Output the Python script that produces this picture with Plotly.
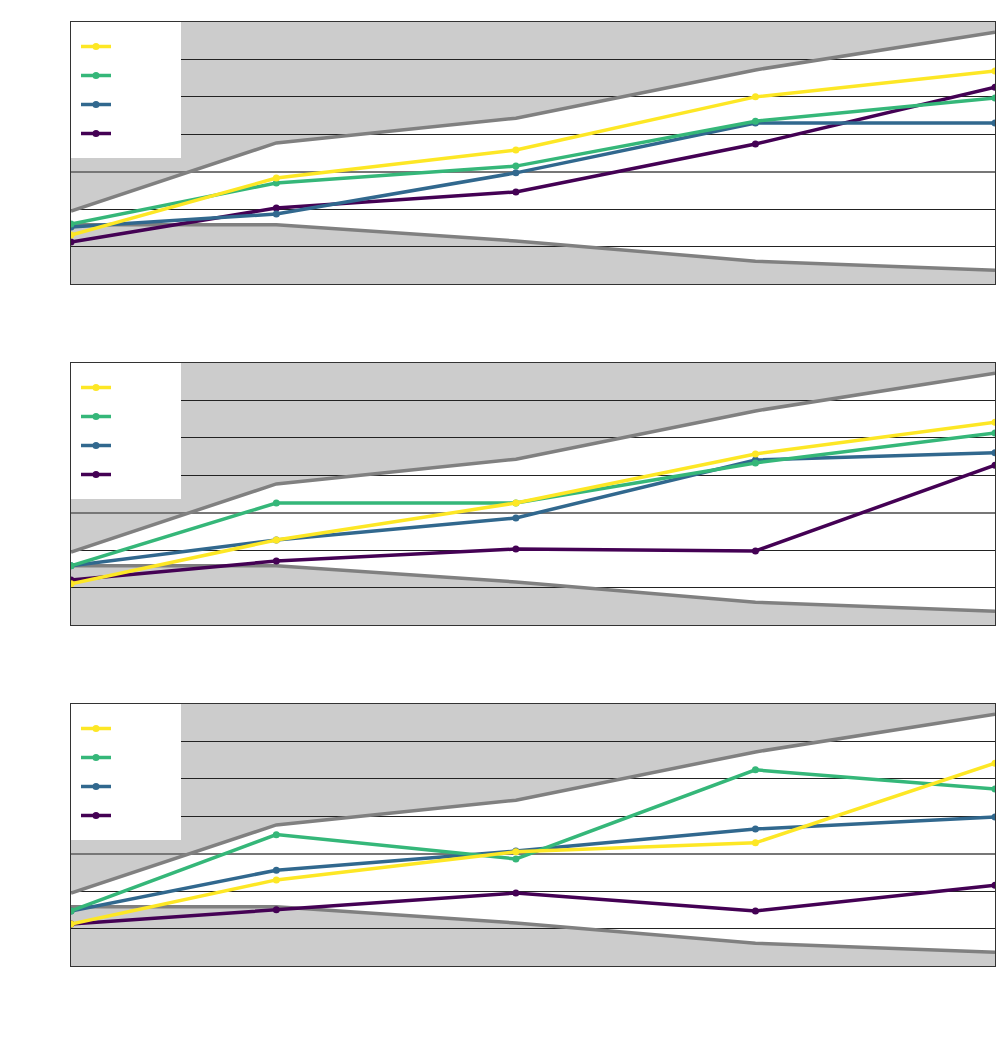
import plotly.graph_objects as go
from plotly.subplots import make_subplots

# x values (years) shared by all panels
years = [1990, 1996, 2003, 2010, 2017]

# funnel limits (same for every panel)
upper_limit = [-1.05, 0.77, 1.43, 2.72, 3.73]
lower_limit = [-1.42, -1.42, -1.85, -2.39, -2.63]

series_names = ['Set A', 'Set B', 'Set C', 'Set D']
series_colors = ['#fde725', '#35b779', '#31688e', '#440154']

# panel 1
p1_a = [-1.69, -0.17, 0.58, 2.00, 2.69]
p1_b = [-1.40, -0.30, 0.15, 1.35, 1.97]
p1_c = [-1.48, -1.13, -0.03, 1.30, 1.30]
p1_d = [-1.88, -0.97, -0.54, 0.74, 2.26]

# panel 2
p2_a = [-1.90, -0.73, 0.26, 1.57, 2.42]
p2_b = [-1.42, 0.26, 0.26, 1.33, 2.13]
p2_c = [-1.42, -0.73, -0.14, 1.41, 1.60]
p2_d = [-1.80, -1.29, -0.97, -1.02, 1.27]

# panel 3
p3_a = [-1.88, -0.70, 0.05, 0.29, 2.42]
p3_b = [-1.53, 0.51, -0.14, 2.24, 1.73]
p3_c = [-1.53, -0.44, 0.07, 0.66, 0.98]
p3_d = [-1.88, -1.50, -1.05, -1.53, -0.84]

panels = [
    [p1_a, p1_b, p1_c, p1_d],
    [p2_a, p2_b, p2_c, p2_d],
    [p3_a, p3_b, p3_c, p3_d],
]

fig = make_subplots(rows=3, cols=1, vertical_spacing=79 / 944)

legend_ids = ['legend', 'legend2', 'legend3']

for r, panel in enumerate(panels, start=1):
    # grey funnel limits
    fig.add_trace(go.Scatter(x=years, y=upper_limit, mode='lines',
                             line=dict(color='#808080', width=3.5),
                             showlegend=False, hoverinfo='skip'), row=r, col=1)
    fig.add_trace(go.Scatter(x=years, y=lower_limit, mode='lines',
                             line=dict(color='#808080', width=3.5),
                             showlegend=False, hoverinfo='skip'), row=r, col=1)
    # white area inside the funnel, under the grid
    pts = list(zip(years, upper_limit)) + list(zip(years[::-1], lower_limit[::-1]))
    path = 'M ' + ' L '.join(f'{x},{y}' for x, y in pts) + ' Z'
    suffix = '' if r == 1 else str(r)
    fig.add_shape(type='path', path=path, xref='x' + suffix, yref='y' + suffix,
                  fillcolor='white', line=dict(width=0), layer='below')
    # series, drawn dark first so yellow ends on top
    for i in reversed(range(4)):
        fig.add_trace(go.Scatter(x=years, y=panel[i], mode='lines+markers',
                                 name=series_names[i],
                                 line=dict(color=series_colors[i], width=3.5),
                                 marker=dict(size=7, color=series_colors[i]),
                                 legend=legend_ids[r - 1]), row=r, col=1)

fig.update_xaxes(range=[1990, 2017], tickvals=years[1:], showgrid=False, zeroline=False,
                 showline=True, mirror=True, linecolor='#333', linewidth=1,
                 tickfont=dict(color='white'), title_text='Year',
                 title_font=dict(color='white'))
fig.update_yaxes(range=[-3, 4], dtick=1, showgrid=True, gridcolor='#222',
                 gridwidth=1, zeroline=True, zerolinecolor='#777', zerolinewidth=1.5,
                 showline=True, mirror=True, linecolor='#333', linewidth=1,
                 tickfont=dict(color='white'), title_text='Score',
                 title_font=dict(color='white'))

legend_style = dict(x=0, xanchor='left', yanchor='top', bgcolor='white',
                    bordercolor='white', borderwidth=5, traceorder='reversed',
                    font=dict(size=20, color='white'))
tops = [1.0, (966 - 363) / 944, 262 / 944]
layout_legends = {lid: dict(legend_style, y=t) for lid, t in zip(legend_ids, tops)}

fig.update_layout(
    width=996, height=1040,
    margin=dict(l=71, r=1, t=22, b=74),
    plot_bgcolor='#cccccc',
    paper_bgcolor='white',
    font=dict(family='DejaVu Sans', color='white'),
    **layout_legends,
)

fig.write_html('out.html', config={'displayModeBar': False},
               post_script="document.body.style.margin='0';")
